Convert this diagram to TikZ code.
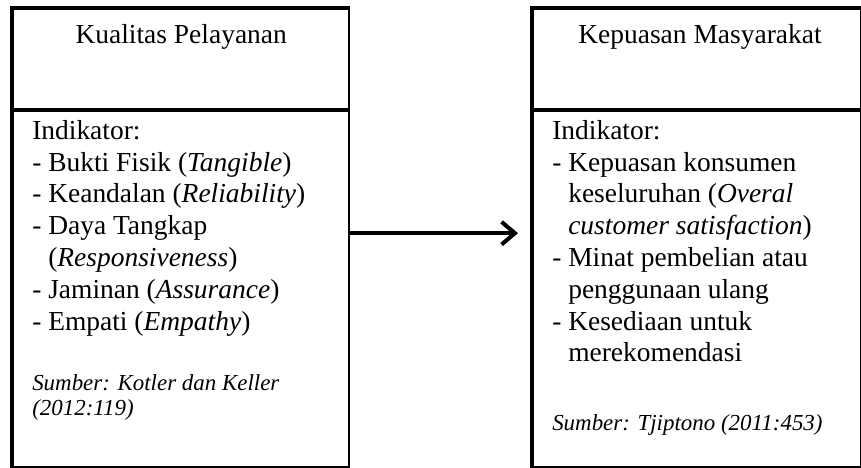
\documentclass[tikz,border=0pt]{standalone}
\usepackage{fontspec}
\setmainfont{Liberation Serif}
\usetikzlibrary{arrows.meta,positioning}
\newcommand{\sisip}{\hphantom{-}\ }
\begin{document}
\begin{tikzpicture}[x=0.75pt, y=-0.75pt, line join=miter, >={Straight Barb[length=10pt,width=17pt]},
	kotak/.style={draw, line width=1.8pt, anchor=north west, inner sep=0pt, minimum height=343.5pt},
	tebal/.style={line width=3pt},
	judul/.style={anchor=base, inner sep=0pt, font=\fontsize{20.6}{23.8}\selectfont},
	isi/.style={anchor=north west, inner sep=0pt, align=left, font=\fontsize{20.6}{23.85}\selectfont},
	sumber/.style={anchor=north west, inner sep=0pt, align=left, font=\fontsize{17.2}{18.8}\selectfont\itshape},
	panah/.style={line width=3pt, ->, shorten >=10.5pt}]
	\useasboundingbox (0,0) rectangle (861,468);
	\def\atas{8} % tepi atas kotak
	\def\garis{110} % garis pemisah judul
	% kotak variabel
	\node[kotak, minimum width=252pt] (kualitas) at (12,\atas) {};
	\node[kotak, minimum width=246pt] (kepuasan) at (532,\atas) {};
	\foreach \k in {kualitas,kepuasan}{
		\draw[tebal] (\k.south west) -- (\k.north west) -- (\k.north east);
		\draw[tebal] (\k.west |- 0,\garis) -- (\k.east |- 0,\garis);
	}
	% judul
	\node[judul] (jkualitas) at (kualitas.north |- 0,43) {Kualitas Pelayanan};
	\node[judul] (jkepuasan) at (700,43) {Kepuasan Masyarakat};
	% indikator
	\node[isi] (ikualitas) at (32,120) {Indikator:\\
		- Bukti Fisik (\textit{Tangible})\\
		- Keandalan (\textit{Reliability})\\
		- Daya Tangkap\\
		\sisip(\textit{Responsiveness})\\
		- Jaminan (\textit{Assurance})\\
		- Empati (\textit{Empathy})};
	\node[isi] (ikepuasan) at (552,120) {Indikator:\\
		- Kepuasan konsumen\\
		\sisip keseluruhan (\textit{Overal}\\
		\sisip\textit{customer satisfaction})\\
		- Minat pembelian atau\\
		\sisip penggunaan ulang\\
		- Kesediaan untuk\\
		\sisip merekomendasi};
	% sumber
	\node[sumber] (skualitas) at (32,374) {Sumber: Kotler dan Keller\\(2012:119)};
	\node[sumber] (skepuasan) at (552,414) {Sumber: Tjiptono (2011:453)};
	\draw[panah] ([yshift=3.75pt]kualitas.east) -- ([yshift=3.75pt]kepuasan.west);
\end{tikzpicture}
\end{document}
